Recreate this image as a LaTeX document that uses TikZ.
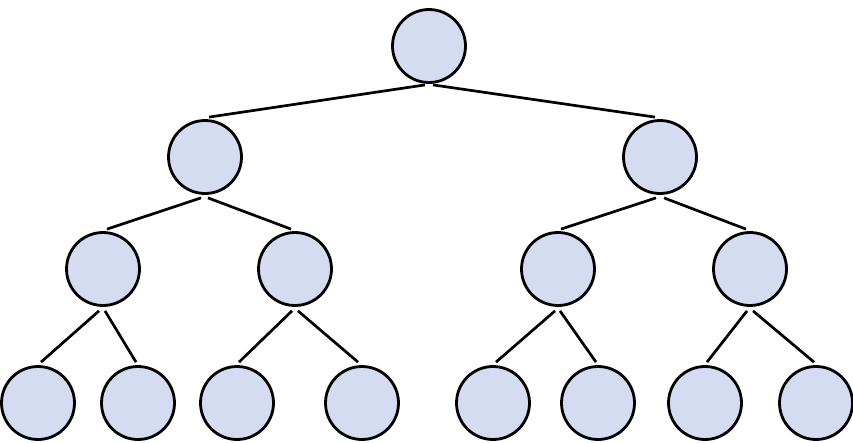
\documentclass[tikz,border=0pt]{standalone}
\usetikzlibrary{calc}
\definecolor{nodefill}{RGB}{213,220,242}
\begin{document}
\begin{tikzpicture}[x=1pt,y=-1pt,
  treenode/.style={circle,draw=black,fill=nodefill,line width=2.8pt,minimum size=73pt,inner sep=0pt},
  treeedge/.style={draw=black,line width=2.7pt}]
\useasboundingbox (0,0) rectangle (853,442);
% nodes
\node[treenode] (r) at (429,46) {};
\node[treenode] (a) at (205,157) {};
\node[treenode] (b) at (660,157) {};
\node[treenode] (c) at (103,269) {};
\node[treenode] (d) at (295,269) {};
\node[treenode] (e) at (558,269) {};
\node[treenode] (f) at (750,269) {};
\node[treenode] (g1) at (38,403) {};
\node[treenode] (g2) at (138,403) {};
\node[treenode] (g3) at (237,403) {};
\node[treenode] (g4) at (362,403) {};
\node[treenode] (g5) at (493,403) {};
\node[treenode] (g6) at (598,403) {};
\node[treenode] (g7) at (705,403) {};
\node[treenode] (g8) at (816,403) {};
% edges
\draw[treeedge] ($(r.south)+(-4,1)$) -- ($(a.north)+(4,-2)$);
\draw[treeedge] ($(r.south)+(4,1)$) -- ($(b.north)+(-5,-2)$);
\draw[treeedge] ($(a.south)+(-4,3)$) -- ($(c.north)+(4,-2)$);
\draw[treeedge] ($(a.south)+(3,3)$) -- ($(d.north)+(-4,-2)$);
\draw[treeedge] ($(b.south)+(-4,3)$) -- ($(e.north)+(3,-2)$);
\draw[treeedge] ($(b.south)+(4,3)$) -- ($(f.north)+(-4,-2)$);
\draw[treeedge] ($(c.south)+(-4,4)$) -- ($(g1.north)+(3,-3)$);
\draw[treeedge] ($(c.south)+(2,4)$) -- ($(g2.north)+(-2,-3)$);
\draw[treeedge] ($(d.south)+(-3,4)$) -- ($(g3.north)+(2,-3)$);
\draw[treeedge] ($(d.south)+(3,4)$) -- ($(g4.north)+(-4,-3)$);
\draw[treeedge] ($(e.south)+(-3,4)$) -- ($(g5.north)+(3,-3)$);
\draw[treeedge] ($(e.south)+(2,4)$) -- ($(g6.north)+(-2,-3)$);
\draw[treeedge] ($(f.south)+(-3,4)$) -- ($(g7.north)+(2,-3)$);
\draw[treeedge] ($(f.south)+(3,4)$) -- ($(g8.north)+(-2,-3)$);
\end{tikzpicture}
\end{document}
